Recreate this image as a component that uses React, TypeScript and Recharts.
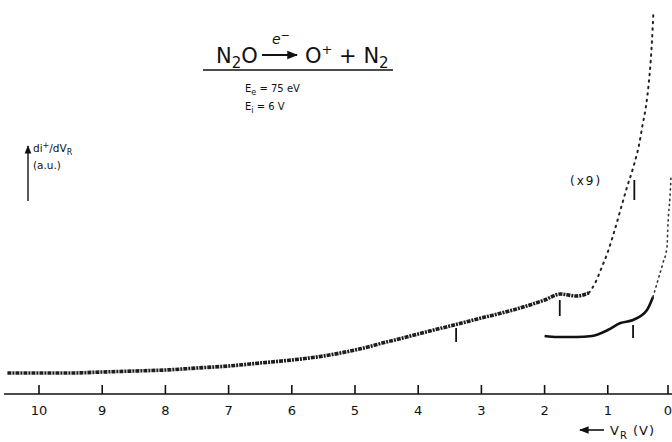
import React from "react";
import { LineChart, Line, XAxis, YAxis, ReferenceLine } from "recharts";

// Retarding voltage V_R (V) and di+/dV_R (a.u.)
const upperNoisyV = [10.5, 10.0, 9.5, 9.0, 8.5, 8.0, 7.5, 7.0, 6.5, 6.0, 5.5, 5.0, 4.5, 4.0, 3.5, 3.0, 2.5, 2.0, 1.75, 1.5, 1.3];
const upperNoisyI = [21, 21, 21, 22, 23, 24, 26, 28, 31, 34, 38, 44, 52, 60, 68, 76, 84, 94, 100, 98, 101];
const upperSteepV = [1.3, 1.2, 1.1, 1.0, 0.9, 0.8, 0.7, 0.6, 0.5, 0.45, 0.4, 0.35, 0.32, 0.3, 0.28];
const upperSteepI = [101, 111, 126, 142, 162, 184, 206, 226, 251, 269, 286, 312, 334, 354, 379];
const lowerSolidV = [2.0, 1.8, 1.5, 1.25, 1.0, 0.8, 0.6, 0.38, 0.285];
const lowerSolidI = [58, 57, 57, 58, 64, 71, 74, 84, 97];
const lowerDotV = [0.285, 0.206, 0.127, 0.063, 0.047, 0.016, 0.0];
const lowerDotI = [97, 114, 131, 147, 171, 197, 216];
// onset markers (V, bottom, top)
const markerV = [3.4, 1.76, 0.58, 0.6];
const markerLo = [52, 78, 194, 56];
const markerHi = [66, 94, 214, 69];
const xTicks = [10, 9, 8, 7, 6, 5, 4, 3, 2, 1, 0];

const zip = (v: number[], i: number[]) => v.map((x, k) => ({ v: x, i: i[k] }));
const upperNoisy = zip(upperNoisyV, upperNoisyI);
const upperSteep = zip(upperSteepV, upperSteepI);
const lowerSolid = zip(lowerSolidV, lowerSolidI);
const lowerDot = zip(lowerDotV, lowerDotI);

const FONT = "'DejaVu Sans', 'Liberation Sans', sans-serif";

const Tick = (props: any) => {
  const { x, y, payload } = props;
  return (
    <g>
      <line x1={x} x2={x} y1={y - 9} y2={y} stroke="#111" strokeWidth={1.6} />
      <text x={x} y={y + 21} textAnchor="middle" fontSize={13} fontFamily={FONT} fill="#111">
        {payload.value}
      </text>
    </g>
  );
};

export default function App() {
  return (
    <div style={{ position: "absolute", left: 0, top: 0, width: 672, height: 442, background: "#fff" }}>
      <LineChart width={672} height={442} margin={{ top: 0, right: 0, bottom: 8, left: 4 }}>
        <XAxis
          type="number"
          dataKey="v"
          domain={[-0.016, 10.554]}
          reversed
          ticks={xTicks}
          tick={<Tick />}
          tickLine={false}
          tickSize={0}
          tickMargin={0}
          height={40}
          axisLine={{ stroke: "#111", strokeWidth: 1.6 }}
          allowDataOverflow
        />
        <YAxis type="number" dataKey="i" domain={[0, 394]} hide width={0} allowDataOverflow />
        <Line data={upperNoisy} dataKey="i" type="monotone" stroke="#1e1e1e" strokeWidth={3.6} strokeDasharray="4 1 2 1" dot={false} isAnimationActive={false} />
        <Line data={upperSteep} dataKey="i" type="monotone" stroke="#222" strokeWidth={2} strokeDasharray="1.5 5" strokeLinecap="round" dot={false} isAnimationActive={false} />
        <Line data={lowerSolid} dataKey="i" type="monotone" stroke="#111" strokeWidth={2.6} dot={false} isAnimationActive={false} />
        <Line data={lowerDot} dataKey="i" type="monotone" stroke="#333" strokeWidth={1.6} strokeDasharray="1.2 4" strokeLinecap="round" dot={false} isAnimationActive={false} />
        {markerV.map((v, k) => (
          <ReferenceLine
            key={k}
            segment={[{ x: v, y: markerLo[k] }, { x: v, y: markerHi[k] }]}
            stroke="#111"
            strokeWidth={1.8}
            ifOverflow="visible"
          />
        ))}
      </LineChart>
      <svg width={672} height={442} style={{ position: "absolute", left: 0, top: 0, pointerEvents: "none" }}>
        <defs>
          <marker id="ah" viewBox="0 0 10 10" refX="9" refY="5" markerWidth="6" markerHeight="6" orient="auto">
            <path d="M0,1 L10,5 L0,9 z" fill="#111" />
          </marker>
        </defs>
        {/* title */}
        <text x={216} y={63} fontSize={21} fontFamily={FONT} fill="#111">
          N<tspan fontSize={15} dy={5}>2</tspan><tspan dy={-5}>O</tspan>
        </text>
        <line x1={262} x2={297} y1={55} y2={55} stroke="#111" strokeWidth={1.8} markerEnd="url(#ah)" />
        <text x={272} y={44} fontSize={14} fontFamily={FONT} fill="#111" fontStyle="italic">
          e<tspan fontSize={11} dy={-5}>−</tspan>
        </text>
        <text x={305} y={63} fontSize={21} fontFamily={FONT} fill="#111">
          O<tspan fontSize={13} dy={-9}>+</tspan><tspan dy={9}> + N</tspan><tspan fontSize={15} dy={5}>2</tspan>
        </text>
        <line x1={203} x2={393} y1={70} y2={70} stroke="#111" strokeWidth={1.6} />
        <text x={245} y={92} fontSize={10} fontFamily={FONT} fill="#111">
          E<tspan fontSize={8} dy={3}>e</tspan><tspan dy={-3}> = 75 eV</tspan>
        </text>
        <text x={245} y={110} fontSize={10} fontFamily={FONT} fill="#111">
          E<tspan fontSize={8} dy={3}>i</tspan><tspan dy={-3}> = 6 V</tspan>
        </text>
        {/* y arrow */}
        <line x1={28} x2={28} y1={201} y2={146} stroke="#111" strokeWidth={1.4} markerEnd="url(#ah)" />
        <text x={33} y={152} fontSize={10.5} fontFamily={FONT} fill="#111">
          di<tspan fontSize={8} dy={-4}>+</tspan><tspan dy={4}>/dV</tspan><tspan fontSize={8} dy={3}>R</tspan>
        </text>
        <text x={33} y={169} fontSize={10.5} fontFamily={FONT} fill="#111">(a.u.)</text>
        <text x={570} y={185} fontSize={12} fontFamily={FONT} fill="#111" letterSpacing={2}>(x9)</text>
        {/* x axis name */}
        <line x1={604} x2={580} y1={430} y2={430} stroke="#111" strokeWidth={1.6} markerEnd="url(#ah)" />
        <text x={610} y={435} fontSize={13} fontFamily={FONT} fill="#111" letterSpacing={1}>
          V<tspan fontSize={10} dy={4}>R</tspan><tspan dy={-4}> (V)</tspan>
        </text>
      </svg>
    </div>
  );
}
